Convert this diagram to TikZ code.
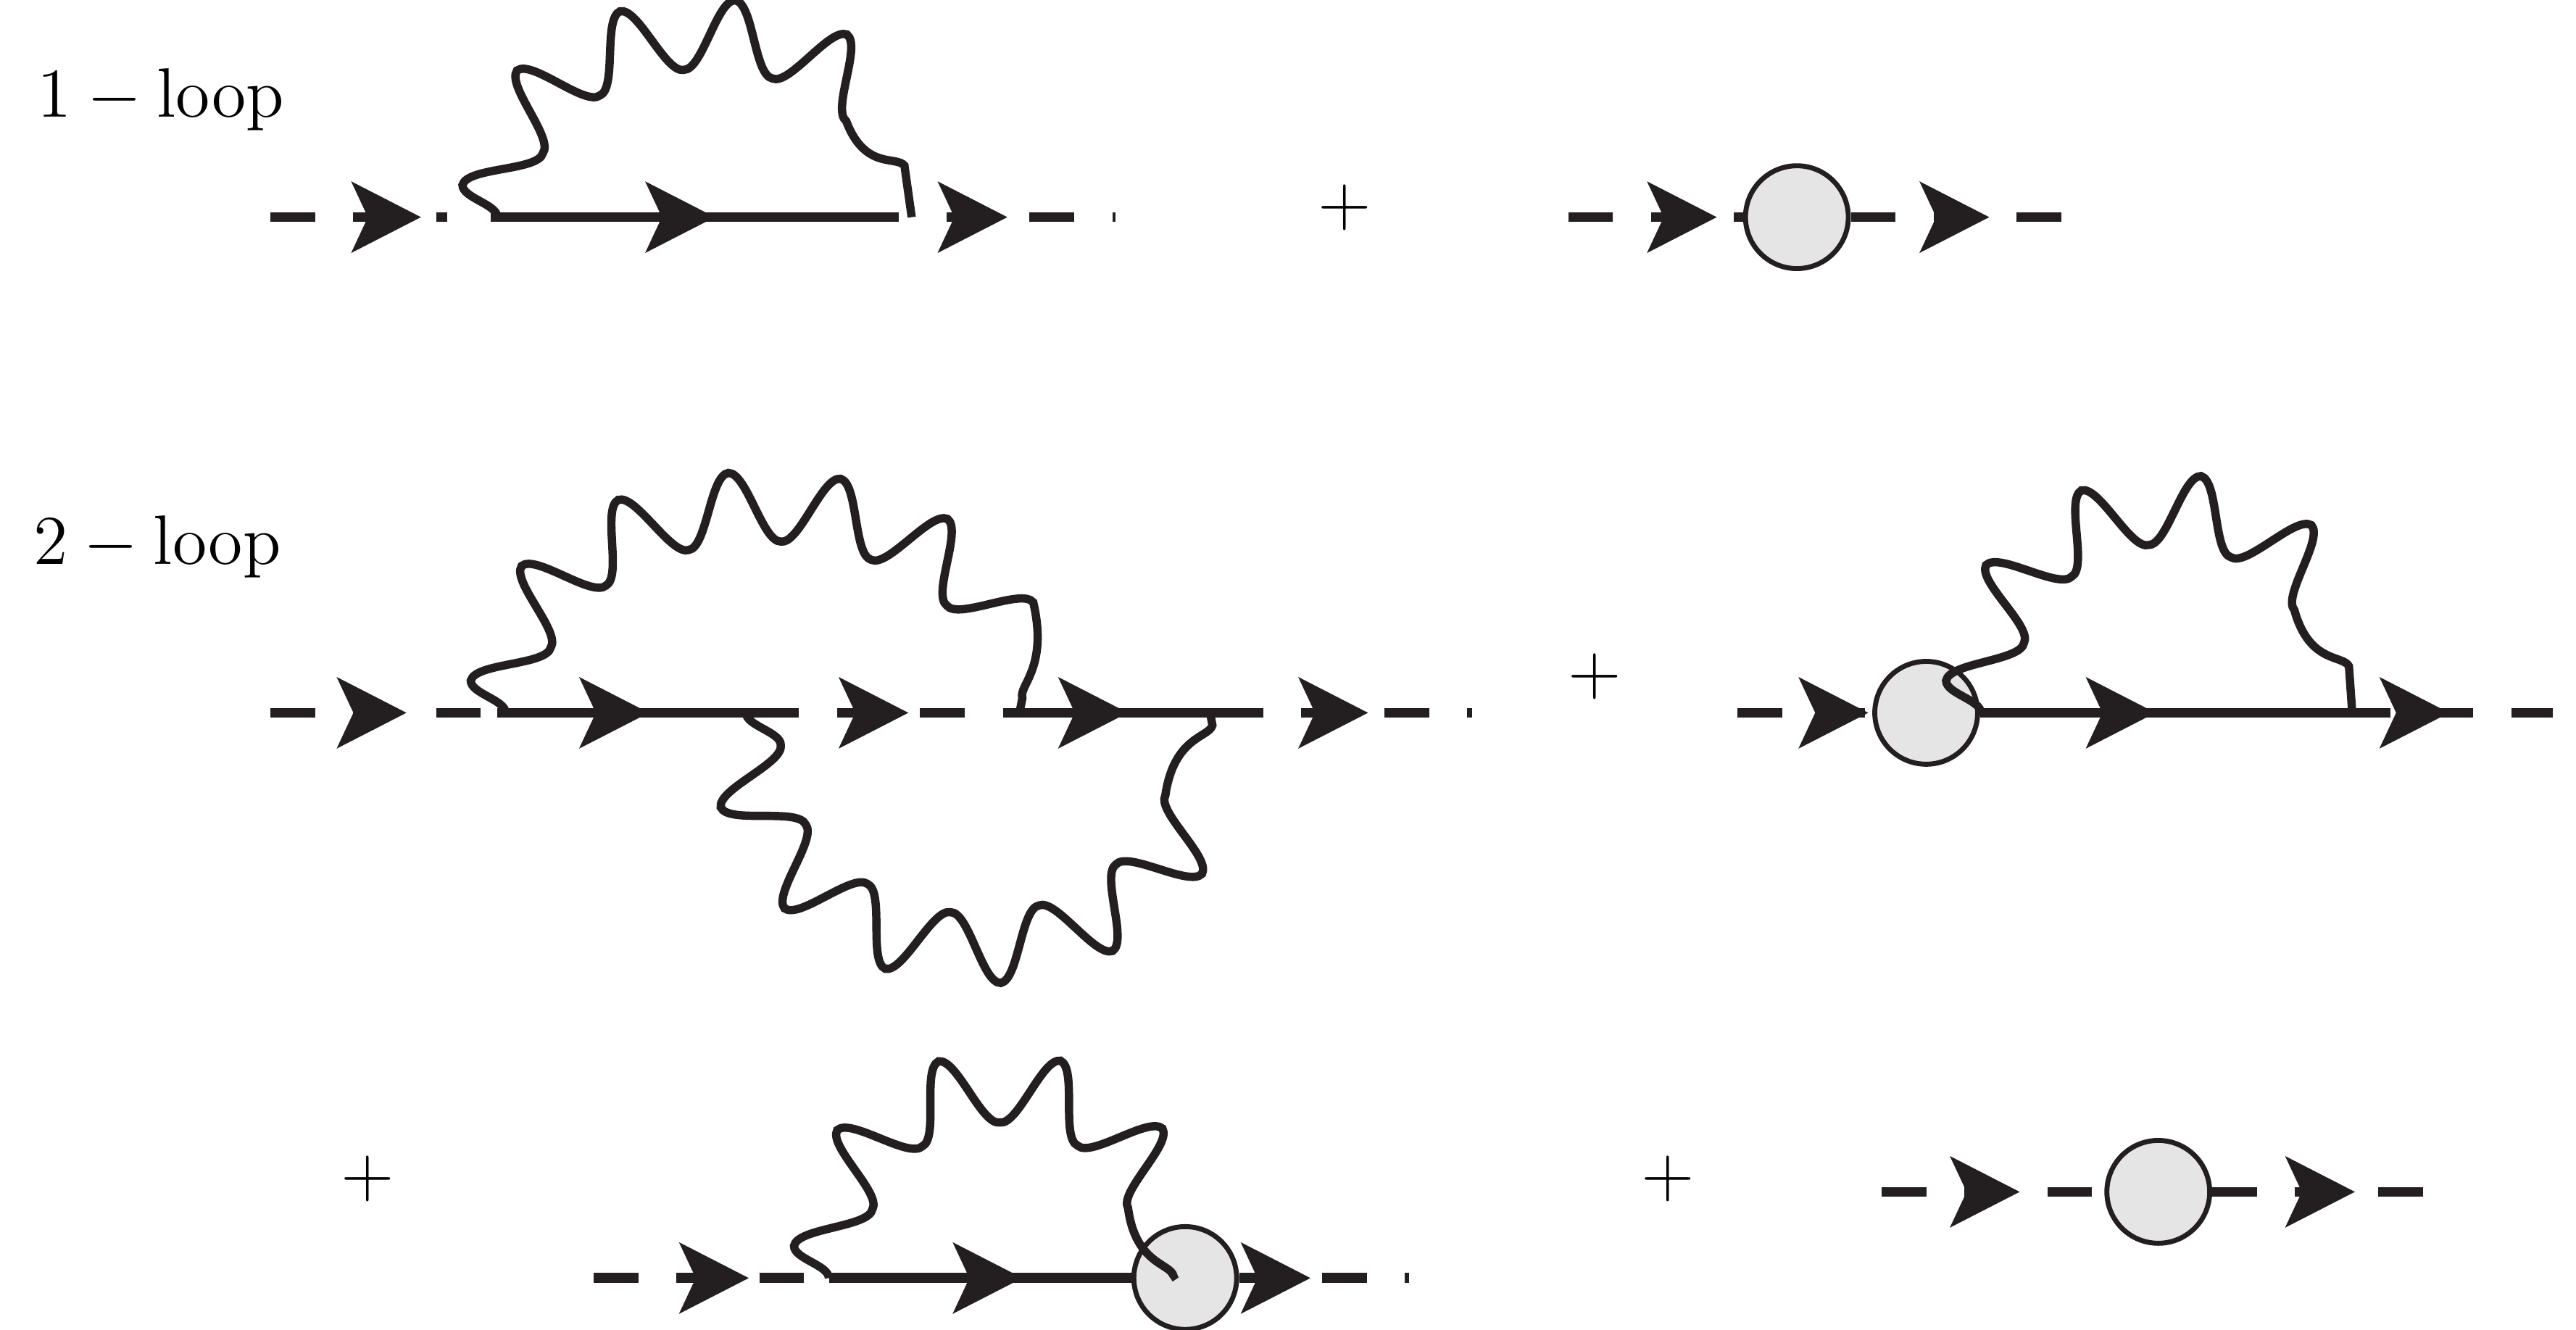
\documentclass[tikz,border=0pt]{standalone}
\usetikzlibrary{decorations.pathmorphing,decorations.markings,arrows.meta}
\definecolor{ink}{HTML}{231F20}
\tikzset{
  ext/.style={draw=ink,line width=0.06cm,dash pattern=on 0.27cm off 0.23cm},
  ferm/.style={draw=ink,line width=0.06cm},
  arrowat/.style={postaction={decorate,decoration={markings,mark=at position #1 with {\arrow[ink,line width=0.5pt]{Stealth[length=0.42cm,width=0.43cm,inset=0.1cm]}}}}},
  photon/.style={draw=ink,line width=0.05cm,decorate,decoration={snake,amplitude=0.21cm,segment length=0.62cm}},
  blob/.style={circle,draw=ink,line width=0.03cm,fill=gray!20,minimum size=0.62cm,inner sep=0pt},
  lbl/.style={inner sep=0pt,font=\fontsize{12.4}{15}\selectfont},
  plus/.style={inner sep=0pt,font=\fontsize{12}{14}\selectfont}
}
\begin{document}
\begin{tikzpicture}[x=0.01cm,y=-0.01cm]
\useasboundingbox (0,0) rectangle (1554,802);
% labels
\node[lbl] (t1) at (97,60) {$1-\mathrm{loop}$};
\node[lbl] (t2) at (95,330) {$2-\mathrm{loop}$};
\node[plus] (p1) at (811,125) {$+$};
\node[plus] (p2) at (962,408) {$+$};
\node[plus] (p3) at (222,711) {$+$};
\node[plus] (p4) at (1006,711) {$+$};
% ---- row 1 left
\coordinate (a0) at (163,131); \coordinate (a1) at (270,131);
\coordinate (a2) at (296,131); \coordinate (a3) at (542,131);
\coordinate (a4) at (571,131); \coordinate (a5) at (673,131);
\coordinate (g1) at (300,131);
\draw[ext,arrowat=0.85] (a0) -- (a1);
\draw[ferm,arrowat=0.55] (a2) -- (a3);
\draw[ext,arrowat=0.36] (a4) -- (a5);
\draw[photon] (g1) arc[start angle=180,end angle=360,x radius=125,y radius=96];
% ---- row 1 right
\node[blob] (c1) at (1084,131) {};
\coordinate (b0) at (946,131); \coordinate (b1) at (1245,131);
\draw[ext,arrowat=0.85] (b0) -- (c1);
\draw[ext,arrowat=0.65] (c1) -- (b1);
% ---- row 2 left
\coordinate (d0) at (163,430); \coordinate (d1) at (300,430);
\coordinate (d2) at (455,430); \coordinate (d3) at (605,430);
\coordinate (d4) at (735,430); \coordinate (d5) at (888,430);
\coordinate (g2) at (305,430); \coordinate (g3) at (450,430);
\draw[ext,arrowat=0.6] (d0) -- (d1);
\draw[ferm,arrowat=0.59] (d1) -- (d2);
\draw[ext,arrowat=0.62] (d2) -- (d3);
\draw[ferm,arrowat=0.58] (d3) -- (d4);
\draw[ext,arrowat=0.59] (d4) -- (d5);
\draw[photon] (g2) arc[start angle=180,end angle=360,x radius=155,y radius=110];
\draw[photon] (g3) arc[start angle=180,end angle=0,x radius=140,y radius=126];
% ---- row 2 right
\node[blob] (c2) at (1162,430) {};
\coordinate (e0) at (1048,430); \coordinate (e1) at (1415,430); \coordinate (e2) at (1540,430);
\coordinate (g4) at (1195,430);
\draw[ext,arrowat=0.97] (e0) -- (c2.west);
\draw[ferm,arrowat=0.48] (c2.east) -- (e1);
\draw[ext,arrowat=0.5] (e1) -- (e2);
\draw[photon] (g4) arc[start angle=180,end angle=360,x radius=112,y radius=108];
% ---- row 3 middle
\node[blob] (c3) at (715,771) {};
\coordinate (f0) at (358,771); \coordinate (f1) at (500,771); \coordinate (f2) at (850,771);
\coordinate (g5) at (500,771);
\draw[ext,arrowat=0.66] (f0) -- (f1);
\draw[ferm,arrowat=0.64] (f1) -- (c3.west);
\draw[ext,arrowat=0.42] (c3.east) -- (f2);
\draw[photon] (g5) arc[start angle=180,end angle=360,x radius=103,y radius=100];
% ---- row 3 right
\node[blob] (c4) at (1302,719) {};
\coordinate (h0) at (1135,719); \coordinate (h1) at (1478,719);
\draw[ext,arrowat=0.62] (h0) -- (c4);
\draw[ext,arrowat=0.6] (c4) -- (h1);
\end{tikzpicture}
\end{document}
